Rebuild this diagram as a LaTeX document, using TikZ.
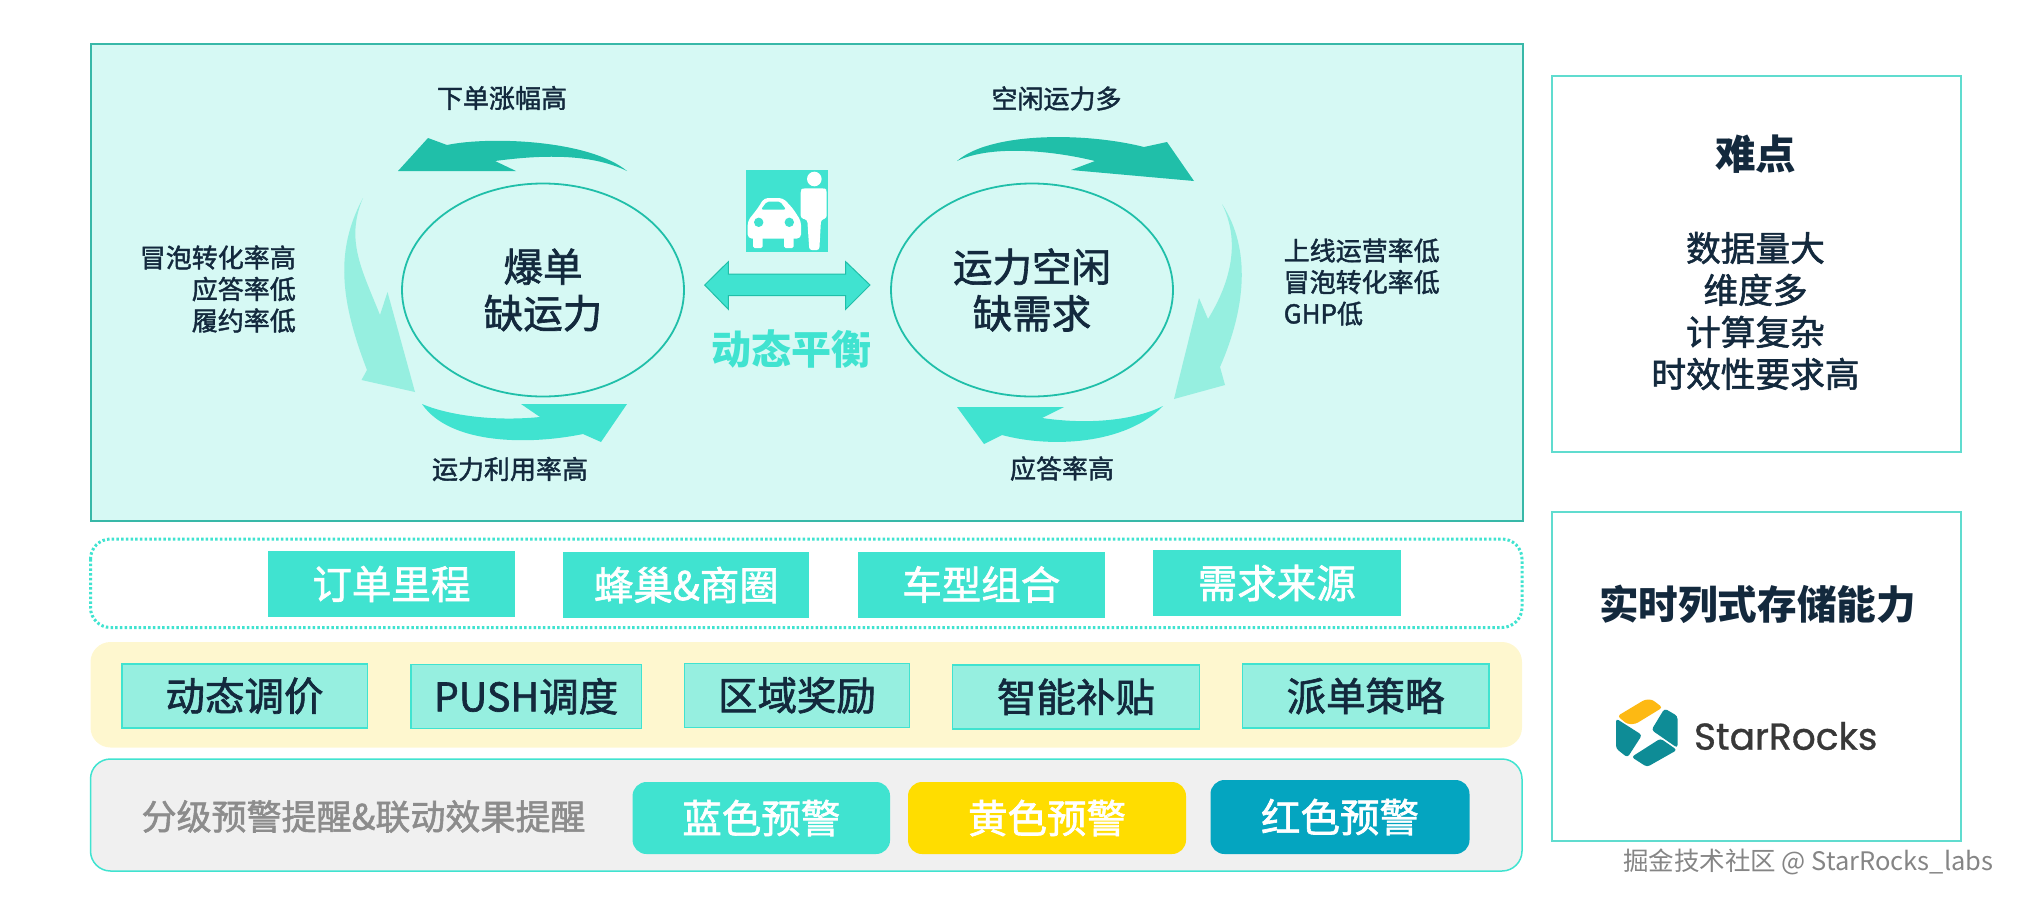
\documentclass[tikz,border=0pt]{standalone}
\usepackage{fontspec}
\usetikzlibrary{shapes.geometric}
\setmainfont{Noto Sans CJK SC}
\newfontfamily\medcjk[FakeBold=1.6]{Noto Sans CJK SC}
\newfontfamily\logofont[FakeBold=0.8]{Poppins}
\definecolor{panelteal}{HTML}{38B8A8}
\definecolor{panelfill}{HTML}{D6F9F4}
\definecolor{darkteal}{HTML}{20BFA9}
\definecolor{midteal}{HTML}{40E3D0}
\definecolor{lightteal}{HTML}{96EFE0}
\definecolor{inktext}{HTML}{13293D}
\definecolor{creamfill}{HTML}{FEF7CF}
\definecolor{greyfill}{HTML}{F0F0F0}
\definecolor{sideline}{HTML}{60DCCF}
\definecolor{logoteal}{HTML}{0E8C96}
\definecolor{logoamber}{HTML}{FDB913}
\definecolor{alertyellow}{HTML}{FFDD00}
\definecolor{alertcyan}{HTML}{04A5C0}
\tikzset{
  lbl/.style={text=inktext, font=\medcjk\fontsize{26}{31.5}\selectfont, inner sep=0pt, align=center},
  bigtxt/.style={text=inktext, font=\medcjk\fontsize{39.5}{46.5}\selectfont, inner sep=0pt, align=center},
  loopell/.style={draw=darkteal, line width=1.8pt, ellipse, inner sep=0pt,
    minimum width=282pt, minimum height=213pt},
  tagbox/.style={fill=midteal, text=white, inner sep=0pt, font=\medcjk\fontsize{39.5}{46}\selectfont},
  leverbox/.style={fill=lightteal, draw=midteal, line width=1.5pt, text=inktext, inner sep=0pt,
    font=\medcjk\fontsize{39.5}{46}\selectfont},
  alertbox/.style={rounded corners=14pt, text=white, inner sep=0pt, font=\medcjk\fontsize{39.5}{46}\selectfont},
  sidebox/.style={draw=sideline, line width=2.5pt, fill=white},
}
\begin{document}
\begin{tikzpicture}[x=1pt, y=-1pt]
  \useasboundingbox (0,0) rectangle (2018,900);
  % Main panel and the three strips under it
  \draw[draw=panelteal, line width=2pt, fill=panelfill] (90.5,44) rectangle (1523,521);
  \draw[midteal, line width=3pt, dash pattern=on 2.5pt off 2.2pt, rounded corners=20pt] (90.5,539) rectangle (1522,627.5);
  \fill[creamfill, rounded corners=20pt] (90.5,642) rectangle (1522,747.5);
  \draw[draw=midteal, line width=1.5pt, fill=greyfill, rounded corners=20pt] (90.5,759) rectangle (1522,871);
  % Side panels
  \draw[sidebox] (1552,76) rectangle (1961,452);
  \draw[sidebox] (1552,512) rectangle (1961,841);

  % The two ellipses
  \node[loopell, bigtxt] (surge) at (543,290) {爆单\\缺运力};
  \node[loopell, bigtxt] (idle) at (1032,290) {运力空闲\\缺需求};

  % Arrows round the left ellipse
  \fill[darkteal] (398,171) -- (428,138) -- (447,145) .. controls (490,136) and (590,140) .. (627,171)
    .. controls (590,153) and (540,155) .. (495,161) -- (516,171) -- cycle;
  \fill[lightteal] (363,198) .. controls (335,250) and (340,300) .. (367,370) -- (361.5,380) -- (415,392)
    -- (387.5,292) -- (380,315) .. controls (362,270) and (345,240) .. (363,198) -- cycle;
  \fill[midteal] (422,404) .. controls (450,445) and (530,445) .. (583,434) -- (601,442) -- (627,404)
    -- (521,404) -- (540,417) .. controls (490,422) and (445,414) .. (422,404) -- cycle;
  % Arrows round the right ellipse
  \fill[darkteal] (957,161) .. controls (990,132) and (1085,132) .. (1144,147) -- (1167,142) -- (1194,181)
    -- (1071,170) -- (1095,161) .. controls (1050,150) and (990,145) .. (957,161) -- cycle;
  \fill[lightteal] (1222,204) .. controls (1252,250) and (1245,310) .. (1220,367) -- (1225,385) -- (1174,399)
    -- (1199,298) -- (1208,319) .. controls (1232,280) and (1240,240) .. (1222,204) -- cycle;
  \fill[midteal] (1163,406) .. controls (1125,445) and (1050,448) .. (1002,435) -- (984,444) -- (957,407)
    -- (1064,407) -- (1042,418) .. controls (1090,425) and (1135,420) .. (1163,406) -- cycle;

  % Labels of the two loops
  \node[lbl] (surgetop) at (502,98) {下单涨幅高};
  \node[lbl] (surgebot) at (510,469) {运力利用率高};
  \node[lbl, anchor=east, align=right] (surgeside) at (296,289) {冒泡转化率高\\应答率低\\履约率低};
  \node[lbl] (idletop) at (1056.5,98.5) {空闲运力多};
  \node[lbl] (idlebot) at (1062,468.5) {应答率高};
  \node[lbl, anchor=west, align=left] (idleside) at (1283.5,282) {上线运营率低\\冒泡转化率低\\GHP低};

  % Car and person icon
  \fill[midteal] (746,170) rectangle (828,252);
  \fill[white, rounded corners=4pt] (747.7,238.5) -- (747.7,221) -- (758,208) -- (764,198) -- (783,198)
    -- (792.5,208) -- (801,221) -- (801,238.5) -- cycle;
  \fill[white, rounded corners=1.5pt] (753,235) rectangle (762.5,248);
  \fill[white, rounded corners=1.5pt] (784,235) rectangle (793.5,248);
  \fill[midteal, rounded corners=2pt] (761,209.5) -- (767,201.5) -- (780,201.5) -- (786,209.5) -- cycle;
  \foreach \cx in {758.7, 789.3} {
    \fill[midteal] (\cx,222.3) circle (4.7pt);
  }
  \fill[white] (814.3,179) circle (7.3pt);
  \fill[white, rounded corners=2.5pt] (800.7,190) -- (803,188.3) -- (824.5,188.3) -- (826.7,190) -- (826.7,218)
    -- (821,220) -- (819.3,250) -- (809.3,250) -- (807.3,220) -- (800.7,218) -- cycle;

  % Balance arrow
  \draw[fill=midteal, draw=darkteal, line width=1pt] (704.7,285) -- (728.3,261.7) -- (728.3,274) -- (845.7,274)
    -- (845.7,261.7) -- (870,285) -- (845.7,309.3) -- (845.7,295.7) -- (728.3,295.7) -- (728.3,309.3) -- cycle;
  \node[text=midteal, inner sep=0pt, font=\bfseries\fontsize{40}{46}\selectfont] (balance) at (791.5,349.5) {动态平衡};

  % Dotted strip
  \foreach \id/\cx/\cy/\bw/\txt in {orderdist/391.4/584/247/订单里程, hive/686.4/585/246/蜂巢\&商圈,
      cartype/981.3/584.5/247/车型组合, demand/1276.8/583/248/需求来源} {
    \node[tagbox, minimum width=\bw pt, minimum height=66pt] (\id) at (\cx,\cy) {\txt};
  }
  % Cream strip
  \foreach \id/\cx/\cy/\bw/\txt in {pricing/244.5/695.8/245.5/动态调价, pushjob/526/696.3/230.5/PUSH调度,
      areabonus/797/695.3/225/区域奖励, subsidy/1076/696.8/247/智能补贴, dispatch/1365.5/696/246.5/派单策略} {
    \node[leverbox, minimum width=\bw pt, minimum height=64pt] (\id) at (\cx,\cy) {\txt};
  }
  % Grey strip
  \node[text=black!45, inner sep=0pt, font=\medcjk\fontsize{35}{40}\selectfont] (alerttitle) at (363.5,816.5)
    {分级预警提醒\&联动效果提醒};
  \node[alertbox, fill=midteal, minimum width=257.5pt, minimum height=72pt] (bluealert) at (761.3,818) {蓝色预警};
  \node[alertbox, fill=alertyellow, minimum width=278pt, minimum height=72pt] (yellowalert) at (1047,818) {黄色预警};
  \node[alertbox, fill=alertcyan, minimum width=259pt, minimum height=74pt] (redalert) at (1340,817) {红色预警};

  % Side panel texts
  \node[text=inktext, inner sep=0pt, font=\bfseries\fontsize{40.5}{46}\selectfont] (hardtitle) at (1755.5,154.5) {难点};
  \node[bigtxt, font=\medcjk\fontsize{34.7}{42}\selectfont] (hardlist) at (1755.5,311) {数据量大\\维度多\\计算复杂\\时效性要求高};
  \node[text=inktext, inner sep=0pt, font=\bfseries\fontsize{39.6}{46}\selectfont] (storetitle) at (1757.5,604) {实时列式存储能力};

  % Logo
  \fill[logoamber, rounded corners=3pt] (1617.5,716) -- (1645,699.5) -- (1652,699.5) -- (1662.5,707.5) -- (1635.5,724) -- (1627,724) -- cycle;
  \fill[logoteal, rounded corners=3pt] (1616,718.5) -- (1642,735) -- (1627.5,757.5) -- (1616,748.5) -- cycle;
  \fill[logoteal, rounded corners=3pt] (1664.5,708.5) -- (1677.5,716) -- (1677.5,748) -- (1651.5,730) -- cycle;
  \fill[logoteal, rounded corners=3pt] (1631.5,757) -- (1660.5,738.5) -- (1677,750) -- (1647,767) -- cycle;
  \node[inner sep=0pt, text=black!78, font=\logofont\fontsize{37.5}{40}\selectfont] (logoname) at (1785.7,736) {StarRocks};

  % Watermark
  \node[anchor=east, inner sep=0pt, text=black!48, font=\fontsize{25.5}{30}\selectfont] (watermark) at (1993.5,861.5)
    {掘金技术社区 @ StarRocks\_labs};
\end{tikzpicture}
\end{document}
